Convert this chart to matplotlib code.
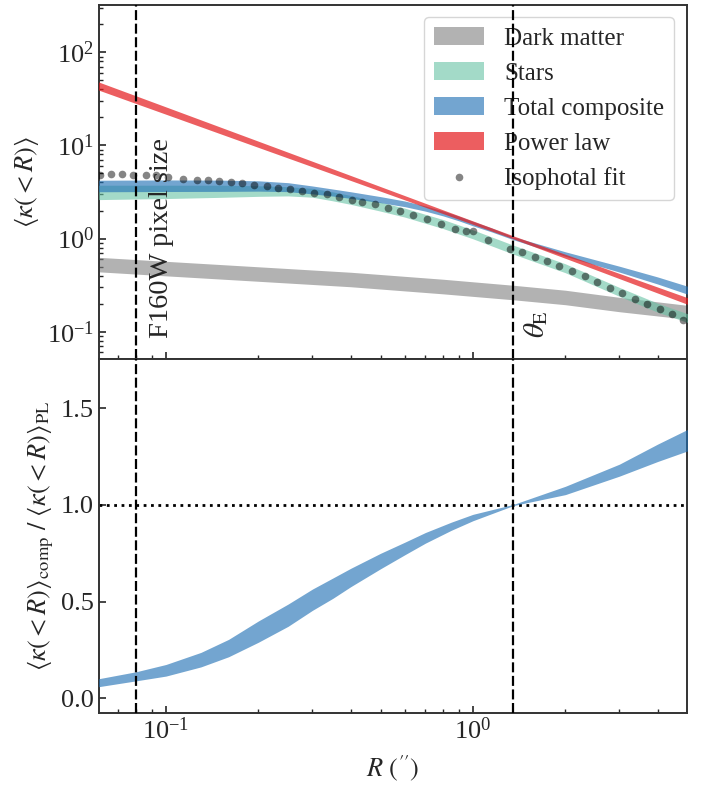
import matplotlib
matplotlib.use("Agg")
import matplotlib.pyplot as plt
import matplotlib.transforms as mtransforms

plt.rcParams['font.family'] = 'serif'
plt.rcParams['font.serif'] = ['Liberation Serif', 'DejaVu Serif']
plt.rcParams['mathtext.fontset'] = 'stix'

# ---------------- data ----------------
# Dark matter band
dm_R  = [0.06, 0.1, 0.2, 0.4, 0.8, 1.36, 2.0, 3.0, 5.0]
dm_hi = [0.630, 0.570, 0.498, 0.435, 0.366, 0.315, 0.279, 0.234, 0.192]
dm_lo = [0.440, 0.398, 0.348, 0.304, 0.255, 0.220, 0.195, 0.164, 0.136]

# Stars band
st_R  = [0.06, 0.1, 0.15, 0.2, 0.25, 0.3, 0.35, 0.4, 0.5, 0.6, 0.7, 0.8, 1.0, 1.355, 2.0, 3.0, 4.0, 5.0]
st_hi = [3.74, 3.74, 3.74, 3.69, 3.61, 3.46, 3.17, 2.90, 2.46, 2.12, 1.82, 1.60, 1.24, 0.849, 0.536, 0.299, 0.202, 0.156]
st_lo = [2.62, 2.69, 2.77, 2.84, 2.87, 2.78, 2.54, 2.33, 1.97, 1.70, 1.46, 1.28, 0.994, 0.680, 0.430, 0.240, 0.162, 0.126]

# Total composite band
tc_R  = [0.06, 0.1, 0.15, 0.2, 0.25, 0.3, 0.35, 0.4, 0.5, 0.6, 0.7, 0.8, 0.9, 1.0, 1.15, 1.355, 2.0, 3.0, 4.0, 5.0]
tc_hi = [4.23, 4.26, 4.24, 4.17, 3.98, 3.67, 3.40, 3.18, 2.82, 2.53, 2.24, 1.98, 1.74, 1.53, 1.30, 1.046, 0.721, 0.505, 0.387, 0.308]
tc_lo = [3.18, 3.20, 3.21, 3.23, 3.19, 3.02, 2.86, 2.70, 2.43, 2.20, 1.97, 1.75, 1.55, 1.37, 1.18, 0.971, 0.645, 0.437, 0.325, 0.253]

# Power-law band
pl_R  = [0.06, 0.1, 0.2, 0.4, 0.8, 1.36, 2.5, 5.0]
pl_hi = [48.3, 25.9, 11.1, 4.75, 2.03, 1.064, 0.523, 0.232]
pl_lo = [39.5, 21.6, 9.52, 4.20, 1.85, 0.988, 0.466, 0.197]

# Isophotal fit points
iso_R = [0.0610, 0.0662, 0.0717, 0.0782, 0.0859, 0.0925, 0.1017, 0.1139, 0.1259,
         0.1374, 0.1489, 0.1629, 0.1772, 0.1935, 0.2130, 0.2322, 0.2535, 0.2767,
         0.3035, 0.3337, 0.3668, 0.4027, 0.4339, 0.4796, 0.5298, 0.5783, 0.6390,
         0.7065, 0.7849, 0.8737, 0.9489, 0.9977, 1.121, 1.319, 1.447, 1.592, 1.746,
         1.910, 2.106, 2.317, 2.541, 2.795, 3.065, 3.371, 3.697, 4.066, 4.438, 4.821]
iso_k = [4.79, 4.99, 4.99, 4.79, 4.79, 4.79, 4.59, 4.33, 4.30,
         4.23, 4.16, 4.05, 3.96, 3.80, 3.67, 3.53, 3.44, 3.25,
         3.12, 2.99, 2.80, 2.62, 2.47, 2.34, 2.15, 1.98, 1.78,
         1.61, 1.45, 1.28, 1.20, 1.20, 0.976, 0.781, 0.718, 0.634, 0.570,
         0.508, 0.449, 0.394, 0.342, 0.298, 0.261, 0.227, 0.200, 0.177, 0.156, 0.135]

# Ratio composite / power law
ra_R  = [0.06, 0.08, 0.1, 0.13, 0.16, 0.2, 0.25, 0.3, 0.35, 0.4, 0.5, 0.6, 0.7, 0.85, 1.0, 1.355, 2.0, 3.0, 4.0, 5.0]
ra_lo = [0.0595, 0.0905, 0.115, 0.1625, 0.215, 0.290, 0.3725, 0.455, 0.5175, 0.5775, 0.670, 0.7425, 0.8025, 0.869, 0.9185, 0.997, 1.0535, 1.149, 1.225, 1.2795]
ra_hi = [0.1005, 0.1375, 0.175, 0.2375, 0.305, 0.400, 0.4875, 0.565, 0.6225, 0.6725, 0.750, 0.8075, 0.8575, 0.911, 0.9515, 1.003, 1.0965, 1.211, 1.315, 1.3905]

pixel_size = 0.08
theta_E = 1.355

# ---------------- figure ----------------
fig = plt.figure(figsize=(7.08, 7.85), dpi=100)
ax1 = fig.add_axes([0.1398, 0.5427, 0.8305, 0.4510])
ax2 = fig.add_axes([0.1398, 0.0917, 0.8305, 0.4510], sharex=ax1)

fs = 18
txt_c = '#262626'
spine_c = '#333333'

ax1.fill_between(dm_R, dm_lo, dm_hi, color='#808080', alpha=0.6, lw=0, label='Dark matter', zorder=2)
ax1.fill_between(st_R, st_lo, st_hi, color='#66c2a4', alpha=0.6, lw=0, label='Stars', zorder=3)
ax1.fill_between(tc_R, tc_lo, tc_hi, color='#2171b5', alpha=0.63, lw=0, label='Total composite', zorder=4)
ax1.fill_between(pl_R, pl_lo, pl_hi, color='#e41a1c', alpha=0.7, lw=0, label='Power law', zorder=5)
ax1.plot(iso_R, iso_k, 'o', color='k', alpha=0.48, ms=5.5, mew=0, label='Isophotal fit', zorder=6)

ax2.fill_between(ra_R, ra_lo, ra_hi, color='#2171b5', alpha=0.63, lw=0, zorder=3)
ax2.axhline(1.0, color='k', ls=':', lw=2, zorder=2)

for ax in (ax1, ax2):
    ax.axvline(pixel_size, color='k', ls='--', dashes=(4.5, 1.6), lw=1.6, zorder=7)
    ax.axvline(theta_E, color='k', ls='--', dashes=(4.5, 1.6), lw=1.6, zorder=7)
    ax.set_xscale('log')
    ax.tick_params(which='both', direction='in', top=False, right=False,
                   labelsize=fs + 1, colors=txt_c)
    ax.tick_params(which='major', length=5, width=1.2)
    ax.tick_params(which='minor', length=3, width=1.0)
    for s in ax.spines.values():
        s.set_color(spine_c)
        s.set_linewidth(1.4)

ax1.set_yscale('log')
ax1.set_xlim(0.0605, 4.98)
ax1.set_ylim(0.051, 322)
ax2.set_ylim(-0.076, 1.755)
ax2.set_yticks([0.0, 0.5, 1.0, 1.5])
ax1.tick_params(labelbottom=False)

trans = mtransforms.blended_transform_factory(ax1.transData, ax1.transAxes)
ax1.text(pixel_size * 1.1, 0.06, 'F160W pixel size', rotation=90, ha='left', va='bottom',
         fontsize=fs + 2.5, transform=trans, zorder=8, color=txt_c)
ax1.text(theta_E * 1.065, 0.06, r'$\theta_{\rm E}$', rotation=90, ha='left', va='bottom',
         fontsize=fs + 3, transform=trans, zorder=8, color=txt_c)

leg = ax1.legend(loc='upper right', fontsize=fs, frameon=True, fancybox=True,
                 framealpha=0.8, edgecolor='#cccccc')
for t in leg.get_texts():
    t.set_color(txt_c)

ax1.set_ylabel(r'$\langle\kappa(<R)\rangle$', fontsize=fs + 1, color=txt_c)
ax2.set_ylabel(r'$\langle\kappa(<R)\rangle_{\rm comp}\ /\ \langle\kappa(<R)\rangle_{\rm PL}$',
               fontsize=fs + 1, color=txt_c)
ax2.set_xlabel(r'$R\ (^{\prime\prime})$', fontsize=fs + 1, color=txt_c, labelpad=6)

fig.savefig('out.png', dpi=100)
